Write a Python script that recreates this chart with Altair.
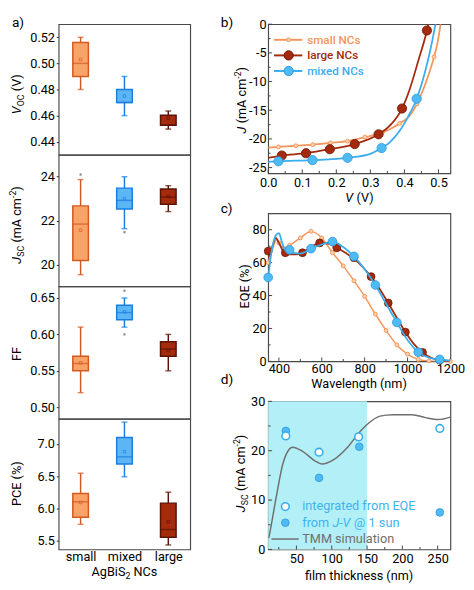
import altair as alt
import pandas as pd

FONT = "Roboto"
INK = "#000000"

# ---------------- (a) box plots ----------------
CATS = ["small", "mixed", "large"]
BOX_FILL = ["#F8A468", "#5CB6F6", "#A42C0C"]
BOX_LINE = ["#D5581F", "#1B7DE0", "#5A1404"]

VOC_LO = [0.480, 0.460, 0.4497]
VOC_Q1 = [0.490, 0.470, 0.4527]
VOC_MED = [0.500, 0.470, 0.4527]
VOC_Q3 = [0.516, 0.480, 0.4603]
VOC_HI = [0.520, 0.490, 0.4635]
VOC_MEAN = [0.503, 0.475, 0.458]
VOC_OUT_CAT = []
VOC_OUT = []
VOC_TICKS = [0.44, 0.46, 0.48, 0.50, 0.52]

JSC_LO = [19.53, 21.63, 22.41]
JSC_Q1 = [20.18, 22.53, 22.74]
JSC_MED = [21.84, 22.92, 23.07]
JSC_Q3 = [22.67, 23.48, 23.44]
JSC_HI = [23.87, 24.00, 23.59]
JSC_MEAN = [21.56, 23.00, 23.10]
JSC_OUT_CAT = ["small", "mixed"]
JSC_OUT = [24.10, 21.47]
JSC_TICKS = [20, 22, 24]

FF_LO = [0.52, 0.61, 0.55]
FF_Q1 = [0.55, 0.62, 0.57]
FF_MED = [0.56, 0.63, 0.58]
FF_Q3 = [0.57, 0.64, 0.59]
FF_HI = [0.61, 0.65, 0.60]
FF_MEAN = [0.561, 0.631, 0.578]
FF_OUT_CAT = ["mixed", "mixed"]
FF_OUT = [0.66, 0.60]
FF_TICKS = [0.50, 0.55, 0.60, 0.65]

PCE_LO = [5.75, 6.49, 5.43]
PCE_Q1 = [5.86, 6.69, 5.55]
PCE_MED = [6.10, 6.80, 5.67]
PCE_Q3 = [6.23, 7.10, 6.08]
PCE_HI = [6.545, 7.34, 6.25]
PCE_MEAN = [6.09, 6.88, 5.79]
PCE_OUT_CAT = []
PCE_OUT = []
PCE_TICKS = [5.5, 6.0, 6.5, 7.0]

# ---------------- (b) J-V curves ----------------
B_XT = [0.0, 0.1, 0.2, 0.3, 0.4, 0.5]
B_XT_MINOR = [0.05, 0.15, 0.25, 0.35, 0.45]
B_YT = [-25, -20, -15, -10, -5, 0]
B_YT_MINOR = [-22.5, -17.5, -12.5, -7.5, -2.5]

SMALL_JV_MV = [0.030, 0.081, 0.131, 0.183, 0.233, 0.284, 0.335, 0.386, 0.437, 0.487]
SMALL_JV_MJ = [-21.4, -21.2, -21.0, -20.7, -20.4, -19.7, -18.9, -17.3, -13.9, -5.7]
SMALL_JV_LV = [0.0, 0.030, 0.081, 0.131, 0.183, 0.233, 0.284, 0.335, 0.386, 0.415, 0.437, 0.462, 0.487, 0.498, 0.506]
SMALL_JV_LJ = [-21.5, -21.4, -21.2, -21.0, -20.7, -20.4, -19.7, -18.9, -17.3, -16.0, -13.9, -10.3, -5.7, -3.0, 0.0]

LARGE_JV_MV = [0.040, 0.111, 0.181, 0.254, 0.324, 0.393, 0.466]
LARGE_JV_MJ = [-22.9, -22.5, -21.8, -20.9, -19.2, -14.7, -1.1]
LARGE_JV_LV = [0.0, 0.040, 0.111, 0.181, 0.254, 0.324, 0.360, 0.393, 0.414, 0.443, 0.466, 0.470]
LARGE_JV_LJ = [-23.3, -22.9, -22.5, -21.8, -20.9, -19.2, -17.5, -14.7, -11.6, -5.9, -1.1, 0.0]

MIXED_JV_MV = [0.030, 0.130, 0.233, 0.333, 0.436]
MIXED_JV_MJ = [-23.9, -23.7, -23.3, -21.6, -13.0]
MIXED_JV_LV = [0.0, 0.030, 0.130, 0.233, 0.300, 0.333, 0.357, 0.386, 0.410, 0.436, 0.464, 0.481, 0.491]
MIXED_JV_LJ = [-24.0, -23.9, -23.7, -23.3, -22.6, -21.6, -20.6, -18.6, -16.2, -13.0, -7.5, -3.1, 0.0]

# ---------------- (c) EQE ----------------
C_XT = [400, 600, 800, 1000, 1200]
C_XT_MINOR = [500, 700, 900, 1100]
C_YT = [0, 20, 40, 60, 80]
C_YT_MINOR = [10, 30, 50, 70]

SMALL_EQE_MX = [350, 400, 450, 500, 550, 600, 650, 700, 750, 800, 850, 900, 950, 1000, 1050, 1100, 1150, 1200]
SMALL_EQE_MY = [60, 72, 70.5, 75, 79, 75, 66, 58, 49, 39.5, 28.7, 18.8, 10, 4.4, 1.2, 0.3, 0.1, 0.0]
SMALL_EQE_LX = [350, 370, 390, 400, 420, 450, 500, 550, 600, 650, 700, 750, 800, 850, 900, 950, 1000, 1050, 1100, 1150, 1200]
SMALL_EQE_LY = [60, 68, 74, 72, 69, 70.5, 75, 79, 75, 66, 58, 49, 39.5, 28.7, 18.8, 10, 4.4, 1.2, 0.3, 0.1, 0.0]

LARGE_EQE_MX = [350, 430, 510, 590, 670, 750, 830, 910, 990, 1070, 1150]
LARGE_EQE_MY = [67, 66, 66, 72, 69, 63, 51.5, 35.5, 17.8, 5.5, 0.8]
LARGE_EQE_LX = [350, 370, 385, 400, 420, 450, 480, 510, 550, 590, 630, 670, 710, 750, 790, 830, 870, 910, 950, 990, 1030, 1070, 1110, 1150, 1200]
LARGE_EQE_LY = [63, 70, 75, 72, 67, 65, 65, 66, 69.5, 72, 71.5, 69, 66, 62.5, 57.5, 51.5, 44, 35.5, 26.5, 17.8, 10.5, 5.5, 2.2, 0.8, 0.2]

MIXED_EQE_MX = [350, 450, 550, 650, 750, 850, 950, 1050, 1150]
MIXED_EQE_MY = [51, 67.8, 68.5, 72.8, 63.8, 46.4, 23.7, 5.6, 1.2]
MIXED_EQE_LX = [350, 365, 385, 400, 415, 430, 450, 500, 550, 600, 650, 700, 750, 800, 850, 900, 950, 1000, 1050, 1100, 1150, 1200]
MIXED_EQE_LY = [51, 66, 76.5, 78, 72, 67.5, 66.5, 65.5, 68.5, 71, 72.8, 69.5, 63.8, 56, 46.4, 35, 23.7, 13, 5.6, 2.2, 1.2, 0.5]

# ---------------- (d) Jsc vs thickness ----------------
D_XT = [50, 100, 150, 200, 250]
D_XT_MINOR = [25, 75, 125, 175, 225]
D_YT = [0, 10, 20, 30]
D_YT_MINOR = [5, 15, 25]
SHADE_FROM = [10]
SHADE_TO = [150]
TMM_T = [10.8, 12.2, 21.5, 30.7, 39.8, 44.5, 58.3, 76.6, 85.8, 104, 122.4, 140.8, 150, 168.3, 186.6, 214, 232.5, 250.9, 268]
TMM_J = [2.3, 3.3, 10.7, 17.3, 20.3, 20.7, 19.9, 17.9, 17.3, 18.3, 20.7, 24.0, 25.3, 27.0, 27.3, 27.3, 26.7, 26.3, 26.8]
JV_T = [35, 82, 139, 253]
JV_J = [24.0, 14.5, 20.8, 7.5]
EQE_T = [35, 82, 138, 253]
EQE_J = [23.0, 19.7, 22.8, 24.5]

# ---------------- styling ----------------
ORANGE = "#F4965A"
ORANGE_FILL = "#FCD3B4"
RED = "#A4290D"
RED_EDGE = "#6E1703"
BLUE = "#3AADEE"
BLUE_FILL = "#4FBBF4"
BLUE_EDGE = "#2A98DD"
SHADE = "#B3EFF6"
GRAY = "#6F6F6F"
LEG_BLUE = "#3FB2F0"

LW = 135
LH = [134, 135, 136, 134]
RW = 187
RH = [153, 152, 152]

ONE = pd.DataFrame({"k": [0]})

CW = {' ': 0.248, '(': 0.342, ')': 0.348, '-': 0.276, '.': 0.263, '%': 0.733, '@': 0.898,
      'A': 0.652, 'B': 0.622, 'C': 0.652, 'E': 0.568, 'F': 0.553, 'J': 0.552, 'N': 0.713, 'O': 0.688,
      'P': 0.631, 'Q': 0.688, 'S': 0.593, 'V': 0.636, 'M': 0.873, 'T': 0.598, 'W': 0.887, 'G': 0.680, 'I': 0.272,
      'a': 0.543, 'b': 0.561, 'c': 0.523, 'd': 0.561, 'e': 0.530, 'f': 0.347, 'g': 0.561, 'h': 0.551,
      'i': 0.243, 'k': 0.507, 'l': 0.242, 'm': 0.876, 'n': 0.552, 'o': 0.570, 'r': 0.338, 's': 0.516,
      't': 0.327, 'u': 0.551, 'v': 0.484, 'w': 0.751, 'x': 0.496, 'y': 0.473, 'z': 0.496}


def tw(s, size):
    return sum(CW.get(c, 0.562) for c in s) * size


def label(text, x, y, size=13, italic=False, angle=0, dx=0.0, dy=0.0, color=INK,
          align="left", baseline="alphabetic", weight="normal"):
    return alt.Chart(ONE).mark_text(
        text=text, font=FONT, fontSize=size, fontStyle="italic" if italic else "normal",
        fontWeight=weight, angle=angle, dx=dx, dy=dy, color=color, align=align, baseline=baseline
    ).encode(x=alt.value(x), y=alt.value(y))


def rich(parts, x, y, angle=0, center=True, color=INK, baseline="alphabetic", weight="normal"):
    total = sum(tw(p[0], p[1]) for p in parts)
    cum = -total / 2.0 if center else 0.0
    out = []
    for t, s, it, sh in parts:
        stripped = t.lstrip()
        lead = tw(t[: len(t) - len(stripped)], s)
        out.append(label(stripped, x, y, size=s, italic=it, angle=angle, dx=cum + lead, dy=sh,
                         color=color, baseline=baseline, weight=weight))
        cum += tw(t, s)
    return out


def box_panel(lo, q1, med, q3, hi, mean, out_cat, out_val, domain, ticks, fmt, h,
              title_parts, title_cy, show_x=False, letter=None):
    df = pd.DataFrame({"cat": CATS, "lo": lo, "q1": q1, "med": med, "q3": q3, "hi": hi, "mean": mean})
    xsc = alt.Scale(type="point", domain=CATS, padding=0.5)
    if show_x:
        xax = alt.Axis(title=None, labelAngle=0, ticks=False, tickSize=0, domain=False,
                       labelPadding=1.5, labelFontSize=13)
    else:
        xax = None
    X = alt.X("cat:N", scale=xsc, axis=xax, title=None)
    ysc = alt.Scale(domain=domain, nice=False, zero=False)
    yax = alt.Axis(values=ticks, format=fmt, title=None, tickSize=2.5, labelPadding=1.8,
                   domain=False, grid=False, labelFlush=False)

    def Y(f):
        return alt.Y(f + ":Q", scale=ysc, axis=yax, title=None)

    sk = alt.Stroke("cat:N", scale=alt.Scale(domain=CATS, range=BOX_LINE), legend=None)
    cl = alt.Color("cat:N", scale=alt.Scale(domain=CATS, range=BOX_LINE), legend=None)
    fl = alt.Fill("cat:N", scale=alt.Scale(domain=CATS, range=BOX_FILL), legend=None)
    base = alt.Chart(df)
    layers = [
        base.mark_rule(strokeWidth=1.5).encode(x=X, y=Y("lo"), y2="hi:Q", stroke=sk),
        base.mark_tick(size=6, thickness=1.5).encode(x=X, y=Y("lo"), color=cl),
        base.mark_tick(size=6, thickness=1.5).encode(x=X, y=Y("hi"), color=cl),
        base.mark_bar(size=16, strokeWidth=1.5).encode(x=X, y=Y("q1"), y2="q3:Q", fill=fl, stroke=sk),
        base.mark_tick(size=16, thickness=1.5).encode(x=X, y=Y("med"), color=cl),
        base.mark_point(shape="square", size=7, strokeWidth=0.8, filled=False, opacity=0.8).encode(
            x=X, y=Y("mean"), color=cl),
    ]
    if out_cat:
        odf = pd.DataFrame({"cat": out_cat, "v": out_val})
        layers.append(alt.Chart(odf).mark_point(shape="square", size=5, filled=True, color="#8a8a8a",
                                                opacity=1).encode(x=X, y=Y("v")))
    layers += rich(title_parts, -39, title_cy, angle=270)
    if letter:
        layers.append(label(letter, -48, -8, size=14, baseline="top"))
    if show_x:
        layers += rich([("AgBiS", 13, False, 0), ("2", 9, False, 3), (" NCs", 13, False, 0)], LW / 2, h + 27.5)
    return alt.layer(*layers).properties(width=LW, height=h)


J_UNIT = [(" (mA cm", 13, False, 0), ("-2", 9, False, -5), (")", 13, False, 0)]

voc = box_panel(VOC_LO, VOC_Q1, VOC_MED, VOC_Q3, VOC_HI, VOC_MEAN, VOC_OUT_CAT, VOC_OUT,
                [0.43, 0.53], VOC_TICKS, ".2f", LH[0],
                [("V", 13, True, 0), ("OC", 9, False, 3), (" (V)", 13, False, 0)], 72, letter="a)")
jsc = box_panel(JSC_LO, JSC_Q1, JSC_MED, JSC_Q3, JSC_HI, JSC_MEAN, JSC_OUT_CAT, JSC_OUT,
                [19, 25], JSC_TICKS, "d", LH[1],
                [("J", 13, True, 0), ("SC", 9, False, 3)] + J_UNIT, 72)
ff = box_panel(FF_LO, FF_Q1, FF_MED, FF_Q3, FF_HI, FF_MEAN, FF_OUT_CAT, FF_OUT,
               [0.484, 0.666], FF_TICKS, ".2f", LH[2], [("FF", 13, False, 0)], 69.5)
pce = box_panel(PCE_LO, PCE_Q1, PCE_MED, PCE_Q3, PCE_HI, PCE_MEAN, PCE_OUT_CAT, PCE_OUT,
                [5.36, 7.39], PCE_TICKS, ".1f", LH[3], [("PCE (%)", 13, False, 0)], 66.5, show_x=True)


def xy(xs, ys):
    return pd.DataFrame({"x": xs, "y": ys})


def frame_ticks(X, Y, xt, yt, xm, ym, h):
    out = []
    for vals, ln in [(xt, 4), (xm, 2.5)]:
        out.append(alt.Chart(pd.DataFrame({"x": vals})).mark_rule(color="#444", strokeWidth=1).encode(
            x=X, y=alt.value(h), y2=alt.value(h - ln)))
    for vals, ln in [(yt, 4), (ym, 2.5)]:
        out.append(alt.Chart(pd.DataFrame({"y": vals})).mark_rule(color="#444", strokeWidth=1).encode(
            y=Y, x=alt.value(0), x2=alt.value(ln)))
    return out


def r_axis(values, fmt, pad, expr=None):
    kw = dict(values=values, format=fmt, title=None, ticks=False, tickSize=0, domain=False,
              labelPadding=pad, grid=False, labelFlush=False)
    if expr:
        kw["labelExpr"] = expr
    return alt.Axis(**kw)


# ----- panel b -----
bX = alt.X("x:Q", scale=alt.Scale(domain=[0, 0.535], nice=False, zero=False),
           axis=r_axis(B_XT, ".1f", 3.7), title=None)
bY = alt.Y("y:Q", scale=alt.Scale(domain=[-26, 0], nice=False, zero=False),
           axis=r_axis(B_YT, "d", 2, "replace(datum.label, '\u2212', '-')"), title=None)

b_layers = frame_ticks(bX, bY, B_XT, B_YT, B_XT_MINOR, B_YT_MINOR, RH[0]) + [
    alt.Chart(xy(SMALL_JV_LV, SMALL_JV_LJ)).mark_line(color=ORANGE, strokeWidth=1.8, interpolate="monotone", clip=True).encode(x=bX, y=bY),
    alt.Chart(xy(SMALL_JV_MV, SMALL_JV_MJ)).mark_circle(size=16, color=ORANGE_FILL, stroke=ORANGE, strokeWidth=1, opacity=1).encode(x=bX, y=bY),
    alt.Chart(xy(LARGE_JV_LV, LARGE_JV_LJ)).mark_line(color=RED, strokeWidth=1.8, interpolate="monotone", clip=True).encode(x=bX, y=bY),
    alt.Chart(xy(LARGE_JV_MV, LARGE_JV_MJ)).mark_circle(size=90, color=RED, stroke=RED_EDGE, strokeWidth=0.8, opacity=1).encode(x=bX, y=bY),
    alt.Chart(xy(MIXED_JV_LV, MIXED_JV_LJ)).mark_line(color=BLUE, strokeWidth=1.8, interpolate="monotone", clip=True).encode(x=bX, y=bY),
    alt.Chart(xy(MIXED_JV_MV, MIXED_JV_MJ)).mark_circle(size=90, color=BLUE_FILL, stroke=BLUE_EDGE, strokeWidth=0.8, opacity=1).encode(x=bX, y=bY),
]
# legend b
for ly, col, fill, edge, sz, txt in [(16, ORANGE, ORANGE_FILL, ORANGE, 16, "small NCs"),
                                     (32, RED, RED, RED_EDGE, 90, "large NCs"),
                                     (48, BLUE, BLUE_FILL, BLUE_EDGE, 90, "mixed NCs")]:
    b_layers.append(alt.Chart(ONE).mark_rule(color=col, strokeWidth=2).encode(
        x=alt.value(6), x2=alt.value(35), y=alt.value(ly)))
    b_layers.append(alt.Chart(ONE).mark_circle(size=sz, color=fill, stroke=edge, strokeWidth=1, opacity=1).encode(
        x=alt.value(21), y=alt.value(ly)))
    b_layers.append(label(txt, 40, ly, size=12, color=col, baseline="middle", weight=500))
b_layers += rich([("J", 13, True, 0)] + J_UNIT, -23, 78, angle=270)
b_layers += rich([("V", 13, True, 0), (" (V)", 13, False, 0)], RW / 2, RH[0] + 29)
b_layers.append(label("b)", -48.7, -8, size=14, baseline="top"))
panel_b = alt.layer(*b_layers).properties(width=RW, height=RH[0])

# ----- panel c -----
cX = alt.X("x:Q", scale=alt.Scale(domain=[350, 1200], nice=False, zero=False),
           axis=r_axis(C_XT, "d", 1.3), title=None)
cY = alt.Y("y:Q", scale=alt.Scale(domain=[0, 90], nice=False, zero=False),
           axis=r_axis(C_YT, "d", 2), title=None)
c_layers = frame_ticks(cX, cY, C_XT, C_YT, C_XT_MINOR, C_YT_MINOR, RH[1]) + [
    alt.Chart(xy(SMALL_EQE_LX, SMALL_EQE_LY)).mark_line(color=ORANGE, strokeWidth=1.5, interpolate="monotone", clip=True).encode(x=cX, y=cY),
    alt.Chart(xy(SMALL_EQE_MX, SMALL_EQE_MY)).mark_circle(size=16, color=ORANGE_FILL, stroke=ORANGE, strokeWidth=1, opacity=1).encode(x=cX, y=cY),
    alt.Chart(xy(LARGE_EQE_LX, LARGE_EQE_LY)).mark_line(color=RED, strokeWidth=1.8, interpolate="monotone", clip=True).encode(x=cX, y=cY),
    alt.Chart(xy(LARGE_EQE_MX, LARGE_EQE_MY)).mark_circle(size=64, color=RED, stroke=RED_EDGE, strokeWidth=0.8, opacity=1).encode(x=cX, y=cY),
    alt.Chart(xy(MIXED_EQE_LX, MIXED_EQE_LY)).mark_line(color=BLUE, strokeWidth=1.8, interpolate="monotone", clip=True).encode(x=cX, y=cY),
    alt.Chart(xy(MIXED_EQE_MX, MIXED_EQE_MY)).mark_circle(size=80, color=BLUE_FILL, stroke=BLUE_EDGE, strokeWidth=0.8, opacity=1).encode(x=cX, y=cY),
]
c_layers += rich([("EQE (%)", 13, False, 0)], -19.5, 75, angle=270)
c_layers += rich([("Wavelength (nm)", 13, False, 0)], RW / 2, RH[1] + 27.3)
c_layers.append(label("c)", -48.7, -11, size=14, baseline="top"))
panel_c = alt.layer(*c_layers).properties(width=RW, height=RH[1])

# ----- panel d -----
dX = alt.X("x:Q", scale=alt.Scale(domain=[10, 268], nice=False, zero=False),
           axis=r_axis(D_XT, "d", 3.7), title=None)
dY = alt.Y("y:Q", scale=alt.Scale(domain=[0, 30], nice=False, zero=False),
           axis=r_axis(D_YT, "d", 3.4), title=None)
d_layers = [
    alt.Chart(pd.DataFrame({"x": SHADE_FROM, "x2": SHADE_TO})).mark_rect(color=SHADE, opacity=1).encode(
        x=dX, x2="x2:Q", y=alt.value(0), y2=alt.value(RH[2])),
] + frame_ticks(dX, dY, D_XT, D_YT, D_XT_MINOR, D_YT_MINOR, RH[2]) + [
    alt.Chart(xy(TMM_T, TMM_J)).mark_line(color=GRAY, strokeWidth=1.5, interpolate="monotone", clip=True).encode(x=dX, y=dY),
    alt.Chart(xy(JV_T, JV_J)).mark_circle(size=62, color=BLUE_FILL, stroke=BLUE_EDGE, strokeWidth=0.8, opacity=1).encode(x=dX, y=dY),
    alt.Chart(xy(EQE_T, EQE_J)).mark_point(size=62, shape="circle", filled=True, fill="white", stroke=BLUE, strokeWidth=1.6, opacity=1).encode(x=dX, y=dY),
    # legend d
    alt.Chart(ONE).mark_point(size=62, shape="circle", filled=True, fill="white", stroke=BLUE, strokeWidth=1.6, opacity=1).encode(
        x=alt.value(17.6), y=alt.value(108)),
    alt.Chart(ONE).mark_circle(size=62, color=BLUE_FILL, stroke=BLUE_EDGE, strokeWidth=0.8, opacity=1).encode(
        x=alt.value(17.6), y=alt.value(124.6)),
    alt.Chart(ONE).mark_rule(color=GRAY, strokeWidth=1.5).encode(
        x=alt.value(3.3), x2=alt.value(31.3), y=alt.value(141.3)),
    label("integrated from EQE", 35, 108, size=13, color=LEG_BLUE, baseline="middle"),
    label("TMM simulation", 35, 141.3, size=13, color=GRAY, baseline="middle"),
]
d_layers += rich([("from ", 13, False, 0), ("J-V", 13, True, 0), (" @ 1 sun", 13, False, 0)], 35, 124.6,
                 center=False, color=LEG_BLUE, baseline="middle")
d_layers += rich([("J", 13, True, 0), ("SC", 9, False, 3)] + J_UNIT, -23.5, 74, angle=270)
d_layers += rich([("film thickness (nm)", 13, False, 0)], RW / 2, RH[2] + 31)
d_layers.append(label("d)", -48.7, -29, size=14, baseline="top"))
panel_d = alt.layer(*d_layers).properties(width=RW, height=RH[2])

left = alt.vconcat(voc, jsc, ff, pce, spacing=0, bounds="flush")
right = alt.vconcat(panel_b, panel_c, panel_d, spacing=41, bounds="flush")

# nested concat groups report no width in a flush layout, so the spacing spans the left column too
chart = alt.hconcat(left, right, spacing=LW + 80, bounds="flush").properties(
    padding=0
).configure_view(
    stroke="#4a4a4a", strokeWidth=1.2
).configure_axis(
    labelFont=FONT, labelFontSize=13, labelColor=INK, titleFont=FONT, grid=False, tickColor="#333",
    labelFlush=False
)

chart.save("out.html", embed_options={"renderer": "svg", "actions": False})
